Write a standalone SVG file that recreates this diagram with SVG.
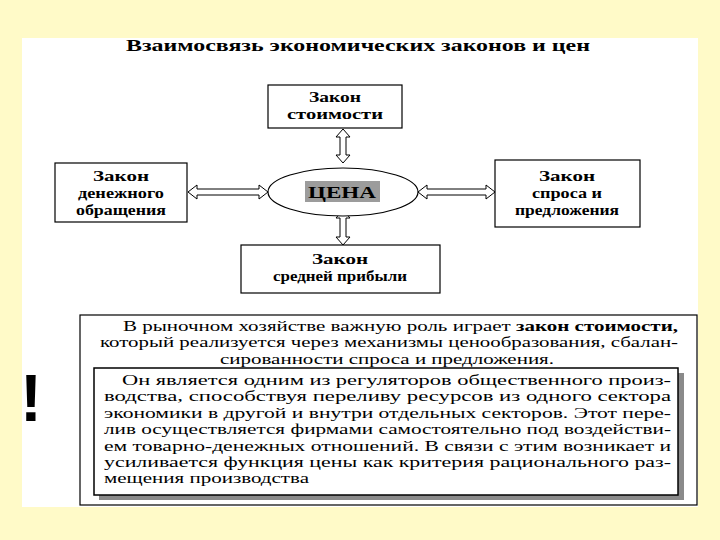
<svg xmlns="http://www.w3.org/2000/svg" width="720" height="540" viewBox="0 0 720 540">
<style>
text{font-family:'Liberation Serif','Times New Roman',serif;fill:#000}
.b{font-weight:bold}
.n{font-size:14px;font-weight:bold;text-anchor:middle}
.box{fill:#fff;stroke:#000;stroke-width:1.2}
.arr{fill:#fff;stroke:#000;stroke-width:1}
.p{font-size:14px}
</style>
<rect x="0" y="0" width="720" height="540" fill="#FFFAC8"/>
<rect x="22" y="38" width="676" height="469" fill="#fff"/>
<text class="b" x="358" y="51" font-size="16" text-anchor="middle" textLength="464" lengthAdjust="spacingAndGlyphs">Взаимосвязь экономических законов и цен</text>

<g id="connectors">
<polygon class="arr" points="343,129 350,137 346,137 346,155 350,155 343,163 336,155 340,155 340,137 336,137"/>
<polygon class="arr" points="343,210 350,218 346,218 346,237 350,237 343,245 336,237 340,237 340,218 336,218"/>
<polygon class="arr" points="188,192 197,185 197,189 259,189 259,185 268,192 259,199 259,195 197,195 197,199"/>
<polygon class="arr" points="418,192 427,185 427,189 486,189 486,185 495,192 486,199 486,195 427,195 427,199"/>
</g>

<g id="n_stoimost">
<rect class="box" x="268" y="85" width="134" height="43"/>
<text class="n" x="335" y="102" textLength="52" lengthAdjust="spacingAndGlyphs">Закон</text>
<text class="n" x="335" y="119" textLength="96" lengthAdjust="spacingAndGlyphs">стоимости</text>
</g>

<g id="n_cena">
<ellipse cx="343" cy="192" rx="75" ry="24" fill="#fff" stroke="#000" stroke-width="1.2"/>
<rect x="305" y="181" width="75" height="21" fill="#9c9c9c"/>
<text class="b" x="342" y="198" font-size="17" text-anchor="middle" textLength="68" lengthAdjust="spacingAndGlyphs">ЦЕНА</text>
</g>

<g id="n_money">
<rect class="box" x="55" y="163" width="132" height="59"/>
<text class="n" x="121" y="181" textLength="56" lengthAdjust="spacingAndGlyphs">Закон</text>
<text class="n" x="121" y="198" textLength="86" lengthAdjust="spacingAndGlyphs">денежного</text>
<text class="n" x="121" y="215" textLength="90" lengthAdjust="spacingAndGlyphs">обращения</text>
</g>

<g id="n_supply">
<rect class="box" x="495" y="160" width="145" height="67"/>
<text class="n" x="567" y="181" textLength="56" lengthAdjust="spacingAndGlyphs">Закон</text>
<text class="n" x="567" y="198" textLength="70" lengthAdjust="spacingAndGlyphs">спроса и</text>
<text class="n" x="567" y="215" textLength="104" lengthAdjust="spacingAndGlyphs">предложения</text>
</g>

<g id="n_profit">
<rect class="box" x="241" y="245" width="199" height="48"/>
<text class="n" x="340" y="264" textLength="56" lengthAdjust="spacingAndGlyphs">Закон</text>
<text class="n" x="340" y="281" textLength="134" lengthAdjust="spacingAndGlyphs">средней прибыли</text>
</g>

<text x="31" y="421" style="font-family:'Liberation Sans',Arial,sans-serif" font-weight="bold" font-size="66" text-anchor="middle">!</text>

<g id="text_block">
<rect x="80" y="315" width="617" height="190" fill="#fff" stroke="#000" stroke-width="1.2"/>
<text class="p" x="123" y="331" textLength="555" lengthAdjust="spacingAndGlyphs">В рыночном хозяйстве важную роль играет <tspan font-weight="bold">закон стоимости,</tspan></text>
<text class="p" x="100" y="347" textLength="578" lengthAdjust="spacingAndGlyphs">который реализуется через механизмы ценообразования, сбалан-</text>
<text class="p" x="220" y="364" textLength="334" lengthAdjust="spacingAndGlyphs">сированности спроса и предложения.</text>
<rect x="99" y="373" width="585" height="127" fill="#8a8a8a"/>
<rect x="94" y="368" width="584" height="127" fill="#fff" stroke="#000" stroke-width="1.5"/>
<text class="p" x="122" y="385" textLength="549" lengthAdjust="spacingAndGlyphs">Он является одним из регуляторов общественного произ-</text>
<text class="p" x="104" y="401" textLength="567" lengthAdjust="spacingAndGlyphs">водства, способствуя переливу ресурсов из одного сектора</text>
<text class="p" x="104" y="418" textLength="567" lengthAdjust="spacingAndGlyphs">экономики в другой и внутри отдельных секторов. Этот пере-</text>
<text class="p" x="104" y="434" textLength="567" lengthAdjust="spacingAndGlyphs">лив осуществляется фирмами самостоятельно под воздействи-</text>
<text class="p" x="104" y="451" textLength="567" lengthAdjust="spacingAndGlyphs">ем товарно-денежных отношений. В связи с этим возникает и</text>
<text class="p" x="104" y="467" textLength="567" lengthAdjust="spacingAndGlyphs">усиливается функция цены как критерия рационального раз-</text>
<text class="p" x="104" y="483" textLength="205" lengthAdjust="spacingAndGlyphs">мещения производства</text>
</g>
</svg>
